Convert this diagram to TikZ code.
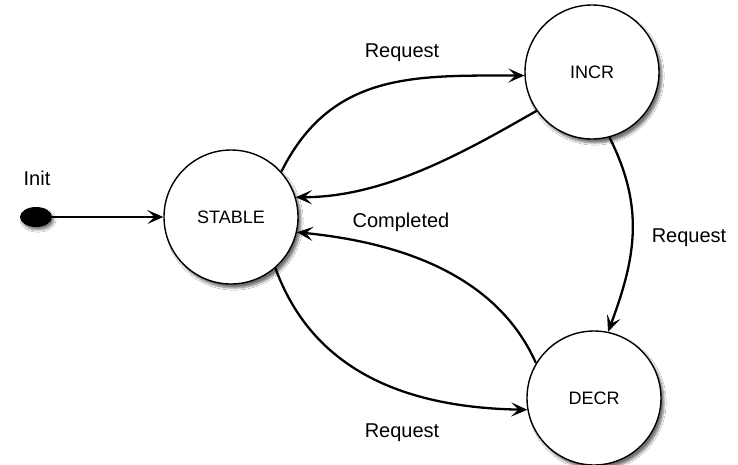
\documentclass[tikz,border=0pt]{standalone}
\usepackage{fontspec}
\setmainfont{Liberation Sans}
\usetikzlibrary{arrows.meta,shapes.geometric,shadows.blur}

\tikzset{
  state/.style={circle, draw, line width=1.4pt, fill=white, minimum size=134pt, inner sep=0pt,
    font=\fontsize{18}{21}\selectfont,
    blur shadow={shadow xshift=3pt, shadow yshift=-4pt, shadow blur steps=6, shadow opacity=55}},
  startdot/.style={ellipse, fill=black, minimum width=32pt, minimum height=20pt, inner sep=0pt,
    blur shadow={shadow xshift=2pt, shadow yshift=-3pt, shadow blur steps=5, shadow opacity=50}},
  trans/.style={line width=2.3pt, -{Stealth[length=16pt,width=14pt,inset=7pt]}},
  lbl/.style={inner sep=0pt, font=\fontsize{20}{24}\selectfont}
}

\begin{document}
\begin{tikzpicture}[x=1pt,y=1pt,yscale=-1,xscale=1]
\useasboundingbox (0,0) rectangle (738,464);
\fill[white] (0,0) rectangle (738,464);

%Shape: Ellipse (init)
\node [startdot] (init) at (36,217) {};
%Shape: Circle
\node [state] (stable) at (231,217) {STABLE};
%Shape: Circle
\node [state] (incr) at (592,72) {INCR};
%Shape: Circle
\node [state] (decr) at (594,398) {DECR};

%Straight Lines
\draw [trans] (init) -- (stable.west);
%Curve Lines
\draw [trans] (stable.42) .. controls +(50,-100) and +(-110,0) .. (incr.183);
%Curve Lines
\draw [trans] (incr.215) .. controls +(-70,40) and +(90,0) .. (stable.17);
%Curve Lines
\draw [trans] (decr.149) .. controls +(-40,-90) and +(100,10) .. (stable.347);
%Curve Lines
\draw [trans] (stable.311) .. controls +(40,110) and +(-110,-2) .. (decr.190);
%Curve Lines
\draw [trans] (incr.285) .. controls +(35,70) and +(28,-75) .. (decr.78);

% Text Node
\node [lbl] (initlbl) at (37,178) {Init};
% Text Node
\node [lbl] (reqtop) at (402,53) {Request};
% Text Node
\node [lbl] (completed) at (401,222) {Completed};
% Text Node
\node [lbl] (reqright) at (689,238) {Request};
% Text Node
\node [lbl] (reqbottom) at (402,433) {Request};
\end{tikzpicture}
\end{document}
